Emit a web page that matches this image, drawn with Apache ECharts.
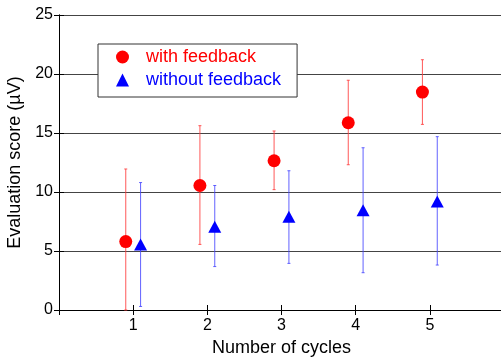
<!DOCTYPE html>
<html>
<head>
<meta charset="utf-8">
<script src="https://cdn.jsdelivr.net/npm/echarts@6/dist/echarts.min.js"></script>
<style>
  html, body { margin: 0; padding: 0; background: #fff; }
  #chart { width: 501px; height: 358px; }
</style>
</head>
<body>
<div id="chart"></div>
<script>
// values
const cycles = [1, 2, 3, 4, 5];
const withMean = [5.8, 10.55, 12.65, 15.87, 18.47];
const withLow = [0, 5.56, 10.2, 12.31, 15.73];
const withHigh = [11.95, 15.62, 15.17, 19.47, 21.21];
const withoutMean = [5.55, 7.05, 7.9, 8.45, 9.2];
const withoutLow = [0.3, 3.68, 3.95, 3.16, 3.81];
const withoutHigh = [10.8, 10.55, 11.8, 13.75, 14.69];
const shift = 0.1; // red points left of the cycle, blue right

const font = 'Liberation Sans, Arial, sans-serif';

function errBars(color) {
  return function (params, api) {
    const x = api.value(0);
    const top = api.coord([x, api.value(2)]);
    const bot = api.coord([x, api.value(1)]);
    const st = { stroke: color, lineWidth: 1 };
    return {
      type: 'group',
      children: [
        { type: 'line', shape: { x1: top[0], y1: top[1], x2: bot[0], y2: bot[1] }, style: st },
        { type: 'line', shape: { x1: top[0] - 1.5, y1: top[1], x2: top[0] + 1.5, y2: top[1] }, style: st },
        { type: 'line', shape: { x1: bot[0] - 1.5, y1: bot[1], x2: bot[0] + 1.5, y2: bot[1] }, style: st }
      ]
    };
  };
}

const chart = echarts.init(document.getElementById('chart'));
chart.setOption({
  animation: false,
  textStyle: { fontFamily: font },
  grid: { left: 59, right: -3, top: 15, bottom: 48, outerBoundsMode: 'none' },
  legend: {
    orient: 'vertical',
    left: 98,
    top: 44,
    padding: [4, 16, 8, 18],
    itemGap: 5,
    itemWidth: 13,
    itemHeight: 13,
    borderColor: '#333',
    borderWidth: 1,
    backgroundColor: '#fff',
    textStyle: { fontSize: 18, fontFamily: font, lineHeight: 18, padding: [0, 0, 0, 12] },
    data: [
      { name: 'with feedback', textStyle: { color: '#ff0000' } },
      { name: 'without feedback', textStyle: { color: '#0000ff' } }
    ]
  },
  xAxis: [
    {
      type: 'value', min: 0, max: 6, interval: 1,
      name: 'Number of cycles', nameLocation: 'middle', nameGap: 26,
      nameTextStyle: { fontSize: 18, color: '#000', fontFamily: font },
      axisLine: { lineStyle: { color: '#000' } },
      axisTick: { inside: true, length: 5, lineStyle: { color: '#000' } },
      axisLabel: {
        fontSize: 16, color: '#000', margin: 8, fontFamily: font,
        formatter: v => (v >= 1 && v <= 5 ? String(v) : '')
      },
      splitLine: { show: false }
    },
    {
      type: 'value', min: 0, max: 6, interval: 1, position: 'top',
      axisLine: { lineStyle: { color: '#000' } },
      axisTick: { inside: true, length: 5, lineStyle: { color: '#000' } },
      axisLabel: { show: false },
      splitLine: { show: false }
    }
  ],
  yAxis: [
    {
      type: 'value', min: 0, max: 25, interval: 5,
      name: 'Evaluation score (\u00b5V)', nameLocation: 'middle', nameGap: 30,
      nameTextStyle: { fontSize: 18, color: '#000', fontFamily: font },
      axisLine: { lineStyle: { color: '#000' } },
      axisTick: { inside: true, length: 5, lineStyle: { color: '#000' } },
      axisLabel: { fontSize: 16, color: '#000', margin: 6, fontFamily: font },
      splitLine: { lineStyle: { color: '#444', width: 1 } }
    },
    {
      type: 'value', min: 0, max: 25, interval: 5, position: 'right',
      axisLine: { show: true, lineStyle: { color: '#000' } },
      axisTick: { show: true, inside: true, length: 5, lineStyle: { color: '#000' } },
      axisLabel: { show: false },
      splitLine: { show: false }
    }
  ],
  series: [
    {
      type: 'custom',
      renderItem: errBars('rgba(255,60,60,0.85)'),
      data: cycles.map((c, i) => [c - shift, withLow[i], withHigh[i]]),
      z: 2
    },
    {
      type: 'custom',
      renderItem: errBars('rgba(70,70,255,0.85)'),
      data: cycles.map((c, i) => [c + shift, withoutLow[i], withoutHigh[i]]),
      z: 2
    },
    {
      name: 'with feedback',
      type: 'scatter',
      symbol: 'circle',
      symbolSize: 13,
      itemStyle: { color: '#ff0000', opacity: 1 },
      data: cycles.map((c, i) => [c - shift, withMean[i]]),
      z: 5
    },
    {
      name: 'without feedback',
      type: 'scatter',
      symbol: 'triangle',
      symbolSize: [13, 12],
      itemStyle: { color: '#0000ff', opacity: 1 },
      data: cycles.map((c, i) => [c + shift, withoutMean[i]]),
      z: 5
    }
  ]
});
</script>
</body>
</html>
